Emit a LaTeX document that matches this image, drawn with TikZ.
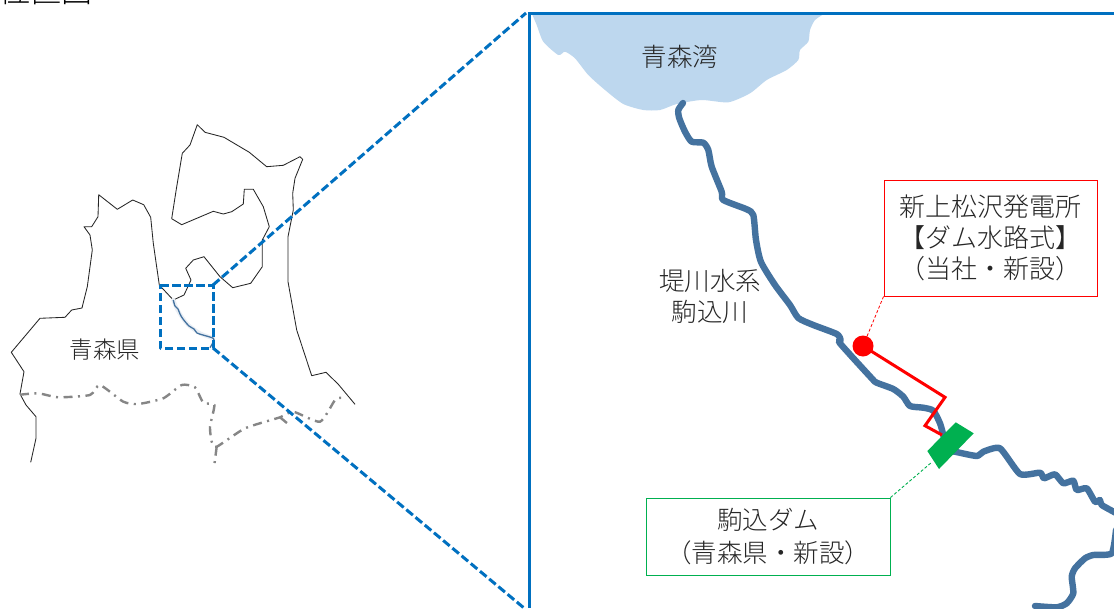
\documentclass[tikz,border=0pt]{standalone}
\usepackage{fontspec}
\setmainfont{Noto Sans CJK JP Light}
\definecolor{framebl}{HTML}{0070C0}
\definecolor{riverbl}{HTML}{44729F}
\definecolor{baybl}{HTML}{BDD7EE}
\definecolor{damgr}{HTML}{00B050}
\definecolor{inkc}{HTML}{262626}
\tikzset{
  x=1pt,y=-1pt,
  label/.style={font=\fontsize{25.5}{31}\selectfont,text=inkc,align=center,inner sep=0pt},
  outline/.style={draw=black!85,line width=0.85pt,line join=round},
  border/.style={draw=gray!95,line width=2.4pt,dash pattern=on 9pt off 5.5pt on 2pt off 5.5pt},
  zoomline/.style={draw=framebl,line width=3pt,dash pattern=on 8.5pt off 3.5pt},
  river/.style={draw=riverbl,line width=6.4pt,line join=round,line cap=round},
  callout/.style={label,draw,line width=0.9pt,fill=white,minimum width=0pt},
}
\begin{document}
\begin{tikzpicture}
\clip (0,0) rectangle (1114,608);
\fill[white] (0,0) rectangle (1114,608);
% title, cut by the top edge
\node[label,font=\fontsize{31}{31}\selectfont,text=black] (title) at (46,-9) {位置図};
% prefecture outline
\draw[outline] plot coordinates {
(30.7,462.3)(36,438.3)(36,416.7)(26,405)(20,394)(24,371.7)(11.3,352.3)(40,318.3)(65,317.3)(71.7,310)(82,308)(87.3,286.7)(92.3,250)(90,235)(84,226.7)(91.7,226.7)(98,216.7)(98.7,194.7)(117.3,209.3)(132.7,200)(143.7,204.7)(150.7,217.3)(153.3,243.3)(159.3,285)(173.3,300)(184,295)(191,280)(185.7,268.3)(193.3,260)(204,256.7)(220,276.7)(232.7,287.7)(250.7,283.3)(262.3,266.7)(262.3,240)(269.3,226.7)(263.3,206.7)(253.3,189.3)(244.3,189.3)(243.3,204)(231.7,211.7)(223.3,214)(213.3,211.3)(181.7,224.7)(171.7,218.7)(176.7,186.7)(182.3,153.3)(190,145)(197.3,124.7)(205,132.3)(224,137.3)(249.3,152.3)(266.7,166.7)(283.3,165.3)(300,156.7)(302.7,159.3)(295,178.3)(292.7,193.3)(293.3,210)(288,236.7)(288,281.7)(296.7,330)(311.7,375.7)(326,372.3)(338.3,384.3)(355,404.3)};
% prefectural border
\draw[border] plot[smooth,tension=0.35] coordinates {
(20,394.7)(38.3,393.3)(58.3,397.3)(90,395)(100,385)(123.3,401.7)(138.3,404)(163.3,398.3)(181.7,385)(195,387.3)(203.3,402.7)(214.3,405)(210,426.7)(211.7,441.7)(216.7,446.7)(245,428.3)(280,417.3)(293.3,411.7)(320,421.7)(335,400)(341.7,397.7)};
\draw[border] (216.7,446.7) -- (214.3,465);
\draw[border] (280,417.3) -- (287.3,423.3);
% small river inside the inset marker
\draw[riverbl!12,line width=4pt,line cap=round] plot[smooth,tension=0.5] coordinates {(173.3,300)(176.7,308.3)(181.7,316.7)(188.3,325)(200,333.3)(213.3,338.3)};
\draw[riverbl,line width=1.3pt] plot[tension=0.5,smooth] coordinates {(173.3,300)(175,306)(178,309)(180,314)(183,319)(189,326)(194,329)(197,333)(203,335)(213.3,338.3)(213.3,341.7)(210,347.7)};
% inset marker and zoom frame
\coordinate (mNE) at (213,285);
\coordinate (mSE) at (213,348);
\coordinate (mSW) at (160,348);
\coordinate (mNW) at (160,285);
\coordinate (fNW) at (529,13);
\coordinate (fNWd) at (526,13);
\coordinate (fNE) at (1114,13);
\coordinate (fSW) at (529,608);
\coordinate (fSWd) at (524,608);
\draw[zoomline,line join=round] (mNW) -- (mNE) -- (mSE) -- (mSW) -- cycle;
\draw[zoomline] (mNE) -- (fNWd);
\draw[zoomline] (mSE) -- (fSWd);
% Aomori bay
\fill[baybl] plot[smooth,tension=0.4] coordinates {
(531.7,13.3)(536.7,25)(543.3,41.7)(558.3,55)(565,51.7)(575,58.3)(588.3,75)(605,90)(623.3,104)(643.3,110)(660,110)(676.7,104)(701.7,100)(728.3,102.3)(750,93.3)(766.7,80)(786.7,70)(798.3,60)(800,50)(808.3,41.7)(810,30)(815,20)(825,13.3)};
\draw[framebl,line width=3pt,line join=miter] (fNE) -- (fNW) -- (fSW);
% river
\draw[river] plot[smooth,tension=0.4] coordinates {
(683,103)(678.3,110)(679.3,118.3)(685,131.7)(691.7,141.7)(703.3,142.7)(708.3,150)(711.7,166.7)(721.7,191.7)(723.3,200)(746.7,209.3)(753.3,215)(756,240)(761,262)(775,285)(790,305)(798.3,318)(813.3,325)(836.7,334)(840.7,340)(840,343.3)(871.7,378.3)(876.7,382.7)(893.3,389)(903.3,396.7)(910,406)(923.3,407.7)(933.3,410.7)(940,423.3)(943.3,435)};
\draw[river] plot[smooth,tension=0.35] coordinates {
(943.3,435)(948,450)(955,451.7)(976.7,456)(983.3,451.7)(1000,448.3)(1020,474)(1040,472.7)(1044,478.3)(1055,474.3)(1063.3,483.3)(1073.3,480.7)(1076.7,490)(1086.7,488.3)(1095,501.7)(1100,500)(1101.7,505)(1116,513)};
\draw[river] plot[smooth,tension=0.35] coordinates {
(1116,530)(1111.7,553.3)(1093.3,555)(1085,558.3)(1075,568.3)(1071.7,576.7)(1073.3,593.3)(1066.7,603.3)(1056.7,607.3)(1035,606)};
% new penstock and station
\node[circle,fill=red,minimum size=21pt,inner sep=0pt] (station) at (863,346) {};
\coordinate (pA) at (945,397.3);
\coordinate (pB) at (925,425.7);
\coordinate (pC) at (942,435);
\draw[red,line width=3pt,line join=miter] (station.center) -- (pA) -- (pB) -- (pC);
% dam
\coordinate (dA) at (955.7,422.3);
\coordinate (dB) at (973.7,433.3);
\coordinate (dC) at (939,469);
\coordinate (dD) at (927.3,451);
\coordinate (dL) at (932,462);
\fill[damgr] (dA) -- (dB) -- (dC) -- (dD) -- cycle;
% labels
\node[label] (bay) at (680,57) {青森湾};
\node[label,font=\fontsize{23.5}{31}\selectfont] (pref) at (105,350) {青森県};
\node[label] (riv) at (710,296) {堤川水系\\駒込川};
\node[callout,draw=red,font=\fontsize{26}{31}\selectfont,minimum width=213pt,minimum height=116pt] (stbox) at (990.5,238) {新上松沢発電所\\【ダム水路式】\\（当社・新設）};
\node[callout,draw=damgr,font=\fontsize{25.5}{33}\selectfont,minimum width=244pt,minimum height=77pt] (dambox) at (768,536.5) {駒込ダム\\（青森県・新設）};
\draw[red,line width=0.8pt,densely dashed] (stbox.south west) -- (station);
\draw[damgr,line width=0.9pt,densely dashed] (dambox.north east) -- (dL);
\end{tikzpicture}
\end{document}
